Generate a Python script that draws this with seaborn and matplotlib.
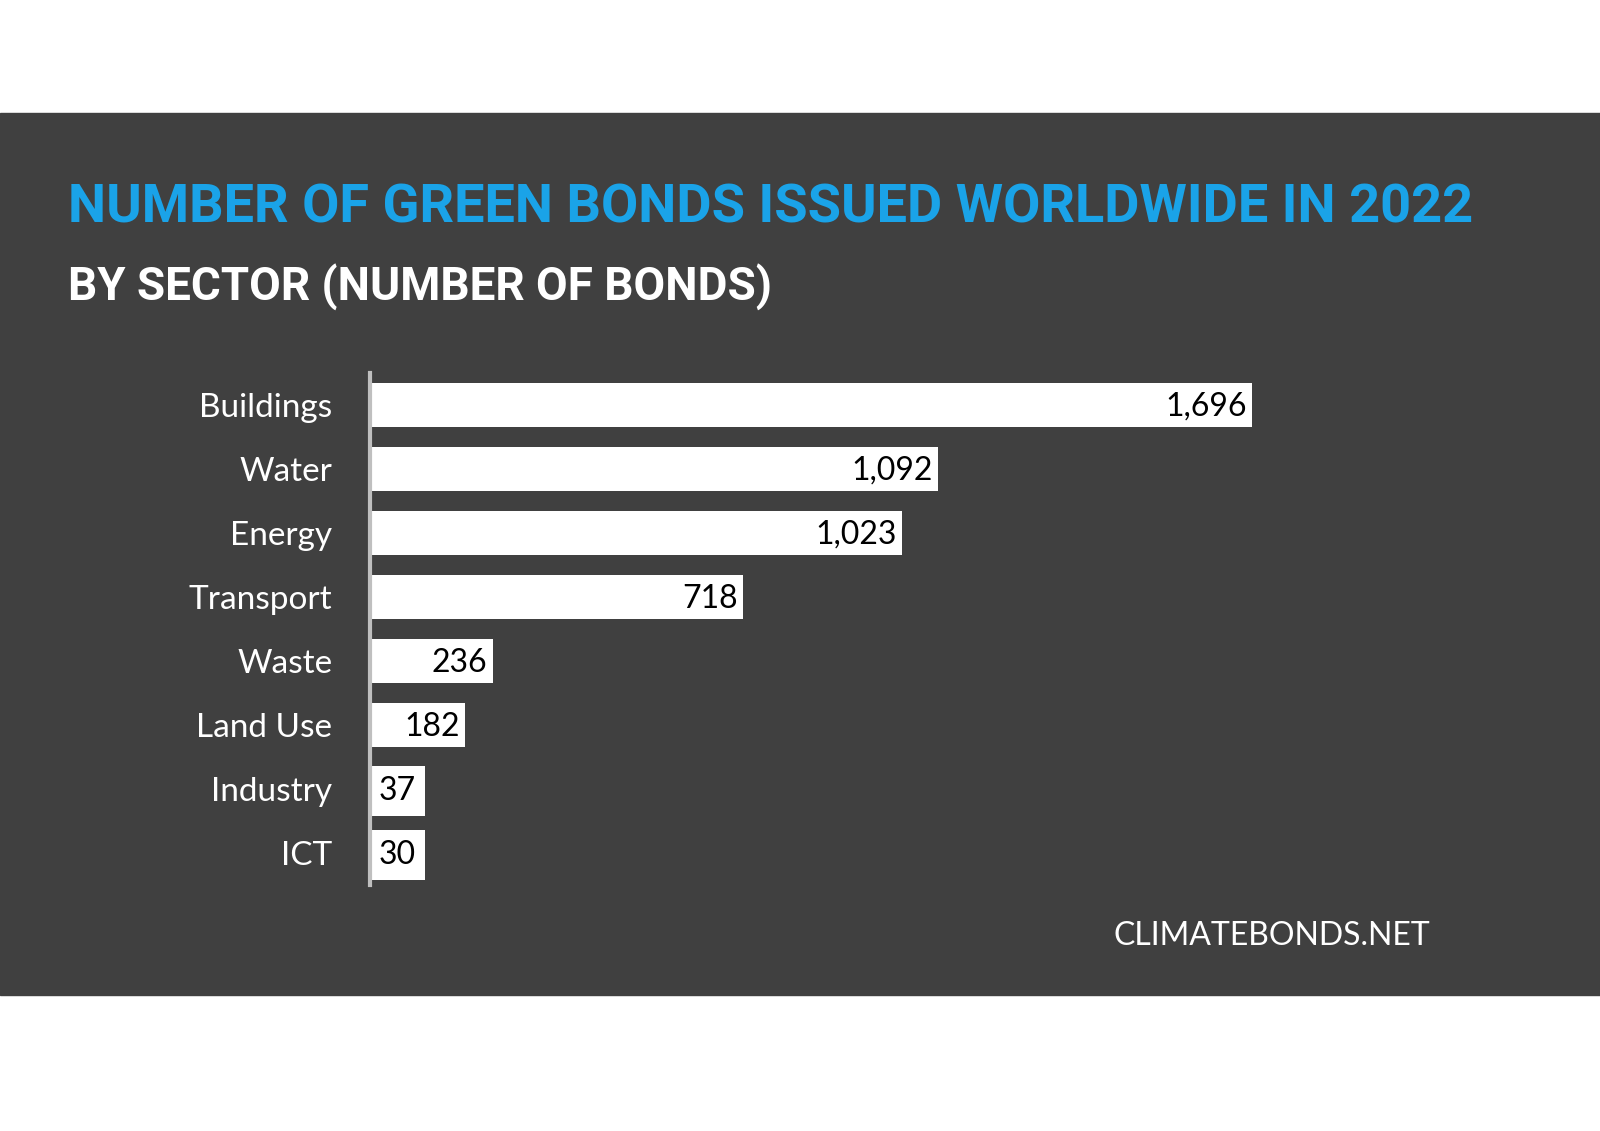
import matplotlib
matplotlib.use("Agg")
import matplotlib.pyplot as plt
import matplotlib.patches as mpatches
import seaborn as sns
import pandas as pd

sectors = ["Buildings", "Water", "Energy", "Transport", "Waste", "Land Use", "Industry", "ICT"]
bonds = [1696, 1092, 1023, 718, 236, 182, 37, 30]

W, H = 1600, 1131
bg = "#404040"
blue = "#1aa3e8"

sns.set_style("white")
plt.rcParams['font.family'] = ['Lato', 'DejaVu Sans']

fig = plt.figure(figsize=(16, 11.31), dpi=100, facecolor="white")
# dark band
fig.patches.append(mpatches.Rectangle((0, 1 - 995 / H), 1, (995 - 113) / H,
                                      transform=fig.transFigure, color=bg, zorder=-5))

def fx(px): return px / W
def fy(py): return 1 - py / H

cond = ['Roboto', 'DejaVu Sans']
fig.text(fx(68), fy(208), "NUMBER OF GREEN BONDS ISSUED WORLDWIDE IN 2022", color=blue,
         fontsize=39, fontweight="bold", family=cond, va="center", ha="left")
fig.text(fx(68), fy(287), "BY SECTOR (NUMBER OF BONDS)", color="white",
         fontsize=33, fontweight="bold", family=cond, va="center", ha="left")
fig.text(fx(1430), fy(936), "CLIMATEBONDS.NET", color="white", fontsize=23, ha="right", va="center")

ax = fig.add_axes([fx(370), fy(885), fx(1306) - fx(370), (885 - 373) / H])
ax.set_zorder(2)
ax.set_facecolor("none")
df = pd.DataFrame({"sector": sectors, "bonds": bonds})
sns.barplot(data=df, x="bonds", y="sector", color="white", width=0.69, ax=ax,
            saturation=1, edgecolor="none")
ax.set_xlim(0, 1800)
ax.set_xlabel("")
ax.set_ylabel("")
ax.set_xticks([])
for s in ["top", "right", "bottom"]:
    ax.spines[s].set_visible(False)
ax.spines["left"].set_color("#bfbfbf")
ax.spines["left"].set_linewidth(3)
ax.spines["left"].set_zorder(5)
ax.tick_params(axis="y", length=0, pad=27, labelsize=24, labelcolor="white")
for i, v in enumerate(bonds):
    if v < 100:
        # small bars: label sits in a white box starting at the axis
        ax.text(16, i + 0.03, f"{v:,}", color="black", fontsize=23, ha="left", va="center",
                bbox=dict(boxstyle="square,pad=0.3", fc="white", ec="none"))
    else:
        ax.text(v - 10, i + 0.03, f"{v:,}", color="black", fontsize=23, ha="right", va="center")

fig.savefig("out.png", dpi=100, facecolor="white")
